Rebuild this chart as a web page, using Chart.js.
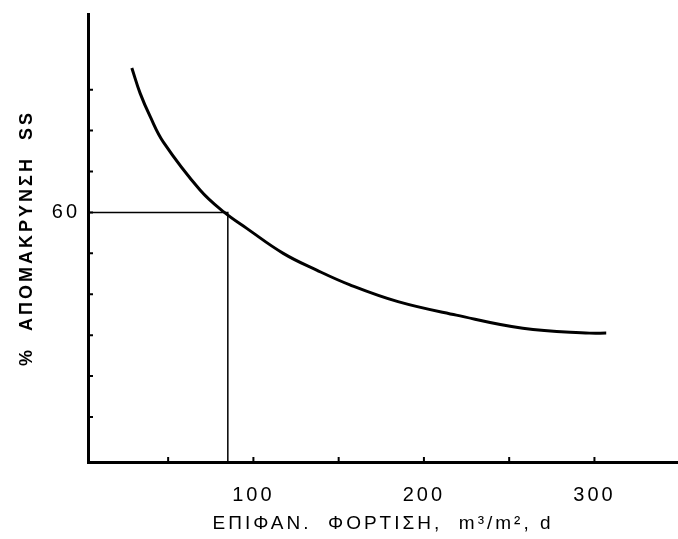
<!DOCTYPE html>
<html>
<head>
<meta charset="utf-8">
<script src="https://cdn.jsdelivr.net/npm/chart.js@4.4.1/dist/chart.umd.min.js"></script>
<style>
    html, body { margin: 0; padding: 0; background: #fff; }
</style>
</head>
<body>
<canvas id="chart" width="678" height="539"></canvas>
<script>
// surface loading (m3/m2.d) against % SS removal
const loading = [28.7, 33.6, 39.5, 47.2, 68.7, 83, 96.1, 117.5, 137.1, 156.6, 184.8, 219, 258, 297.1, 306.9];
const removal = [95.3, 89.1, 83.4, 77.2, 65.5, 60, 56.1, 50, 45.9, 42.3, 38.2, 34.9, 31.7, 30.5, 30.5];

// guide from the 60 % mark across to the curve and down to the axis
const guideX = [3, 85, 85];
const guideY = [60, 60, -1];

// tick marks and the few labelled ticks
const xTicks = [50, 100, 150, 200, 250, 300];
const xLabels = [100, 200, 300];
const yTicks = [10, 20, 30, 40, 50, 60, 70, 80, 90];
const yLabels = [60];

const FONT = "'Liberation Sans', Arial, sans-serif";

// small tick marks pointing into the plot, like the hand drawn original
const innerTicks = {
    id: 'innerTicks',
    beforeDraw(chart) {
        // the lettering of the original is spaced out
        chart.ctx.letterSpacing = '3px';
    },
    afterDatasetsDraw(chart) {
        const { ctx, scales: { x, y } } = chart;
        ctx.save();
        ctx.strokeStyle = '#000';
        ctx.lineWidth = 2;
        ctx.beginPath();
        xTicks.forEach(v => {
            const px = x.getPixelForValue(v);
            ctx.moveTo(px, y.bottom);
            ctx.lineTo(px, y.bottom - 5);
        });
        yTicks.forEach(v => {
            const py = y.getPixelForValue(v);
            ctx.moveTo(x.left, py);
            ctx.lineTo(x.left + 5, py);
        });
        ctx.stroke();
        ctx.restore();
    }
};

const ctx = document.getElementById('chart').getContext('2d');
new Chart(ctx, {
    type: 'line',
    data: {
        datasets: [{
            data: loading.map((v, i) => ({ x: v, y: removal[i] })),
            borderColor: '#000',
            borderWidth: 3,
            pointRadius: 0,
            tension: 0.4,
            fill: false
        }, {
            data: guideX.map((v, i) => ({ x: v, y: guideY[i] })),
            borderColor: '#000',
            borderWidth: 1.5,
            pointRadius: 0,
            tension: 0,
            fill: false
        }]
    },
    options: {
        responsive: false,
        animation: false,
        layout: { padding: { top: 14, right: 0, left: 0, bottom: 0 } },
        plugins: {
            legend: { display: false },
            tooltip: { enabled: false }
        },
        scales: {
            x: {
                type: 'linear',
                min: 3,
                max: 349,
                afterFit: scale => {
                    scale.height = 77;
                    scale.paddingLeft = 0;
                    scale.paddingRight = 0;
                },
                grid: { display: true, drawOnChartArea: false, drawTicks: false },
                border: { display: true, color: '#000', width: 3 },
                ticks: {
                    stepSize: 50,
                    autoSkip: false,
                    maxRotation: 0,
                    padding: 21,
                    color: '#000',
                    font: { family: FONT, size: 20 },
                    callback: v => xLabels.includes(Math.round(v)) ? String(Math.round(v)) : ''
                },
                title: {
                    display: true,
                    text: 'ΕΠΙΦΑΝ.  ΦΟΡΤΙΣΗ,  m³/m², d',
                    color: '#000',
                    font: { family: FONT, size: 19 },
                    padding: { top: 0, bottom: 4 }
                }
            },
            y: {
                min: -1,
                max: 108.5,
                afterFit: scale => {
                    scale.width = 88;
                    scale.paddingTop = 0;
                    scale.paddingBottom = 0;
                },
                grid: { display: true, drawOnChartArea: false, drawTicks: false },
                border: { display: true, color: '#000', width: 3 },
                ticks: {
                    stepSize: 10,
                    autoSkip: false,
                    padding: 8,
                    color: '#000',
                    font: { family: FONT, size: 20 },
                    callback: v => yLabels.includes(Math.round(v)) ? String(Math.round(v)) : ''
                },
                title: {
                    display: true,
                    text: '%  ΑΠΟΜΑΚΡΥΝΣΗ  SS',
                    color: '#000',
                    font: { family: FONT, size: 18, weight: 'bold' },
                    padding: { top: 16, bottom: 0 }
                }
            }
        }
    },
    plugins: [innerTicks]
});
</script>
</body>
</html>
